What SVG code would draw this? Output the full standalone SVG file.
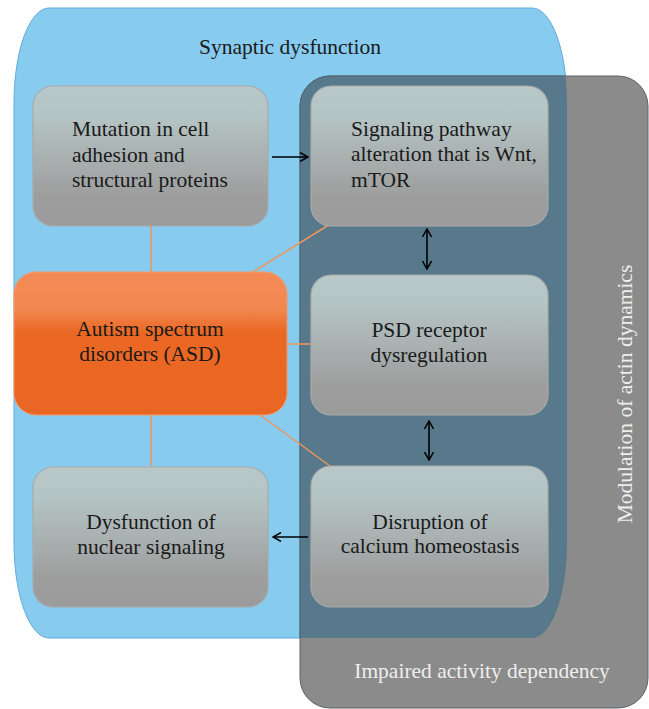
<svg xmlns="http://www.w3.org/2000/svg" width="649" height="709" viewBox="0 0 649 709">
<style>
.node{stroke:#a9aaaa;stroke-width:1.2}
.lbl{font-family:"Liberation Serif","DejaVu Serif",serif;font-size:21.5px;fill:#1a1a1a}
.c{text-anchor:middle}
.olink{stroke:#f0955a;stroke-width:1.5;fill:none}
.arr{stroke:#000;stroke-width:1.6;fill:none}
.wt{font-family:"Liberation Serif","DejaVu Serif",serif;font-size:21.5px;fill:#eeeeee}
</style>
<defs>
<linearGradient id="gg" x1="0" y1="0" x2="0" y2="1">
<stop offset="0" stop-color="#b8c8c8"/>
<stop offset="0.22" stop-color="#b5c4c4"/>
<stop offset="0.78" stop-color="#9e9e9e"/>
<stop offset="1" stop-color="#9b9b9b"/>
</linearGradient>
<linearGradient id="og" x1="0" y1="0" x2="0" y2="1">
<stop offset="0" stop-color="#f48b56"/>
<stop offset="0.26" stop-color="#f38751"/>
<stop offset="0.42" stop-color="#ea6824"/>
<stop offset="1" stop-color="#e96523"/>
</linearGradient>
<path id="bluePath" d="M49 8 H532 A35 95 0 0 1 567 103 V543 A35 95 0 0 1 532 638 H49 A35 95 0 0 1 14 543 V103 A35 95 0 0 1 49 8 Z"/>
<clipPath id="blueClip"><use href="#bluePath"/></clipPath>
<marker id="ah" viewBox="0 0 10 10" refX="9" refY="5" markerWidth="10" markerHeight="10" markerUnits="userSpaceOnUse" orient="auto-start-reverse">
<path d="M1 0.5 L9 5 L1 9.5" fill="none" stroke="#000" stroke-width="1.5"/>
</marker>
</defs>

<g id="regions">
<use href="#bluePath" fill="#87cbef" stroke="#63a9dc" stroke-width="1"/>
<rect x="300" y="76" width="348" height="632" rx="30" ry="30" fill="#8b8b8b" stroke="#5d6367" stroke-width="1"/>
<rect x="300" y="76" width="348" height="632" rx="30" ry="30" fill="#58798b" stroke="#4e6675" stroke-width="1" clip-path="url(#blueClip)"/>
<text class="lbl c" x="290" y="54" font-size="20.5">Synaptic dysfunction</text>
<text class="wt c" x="482" y="678">Impaired activity dependency</text>
<text class="wt c" transform="translate(632 394) rotate(-90)">Modulation of actin dynamics</text>
</g>

<g id="connectors">
<line class="olink" x1="151" y1="226" x2="151" y2="272"/>
<line class="olink" x1="151" y1="415" x2="151" y2="467"/>
<line class="olink" x1="327" y1="226" x2="253" y2="272"/>
<line class="olink" x1="287" y1="344" x2="311" y2="344"/>
<line class="olink" x1="260" y1="415" x2="330" y2="466"/>
<line class="arr" x1="272" y1="157" x2="308" y2="157" marker-end="url(#ah)"/>
<line class="arr" x1="427" y1="229" x2="427" y2="269" marker-start="url(#ah)" marker-end="url(#ah)"/>
<line class="arr" x1="429" y1="421" x2="429" y2="460" marker-start="url(#ah)" marker-end="url(#ah)"/>
<line class="arr" x1="308" y1="537" x2="273" y2="537" marker-end="url(#ah)"/>
</g>

<g id="n-mutation">
<rect class="node" x="33" y="86" width="235" height="140" rx="20" fill="url(#gg)"/>
<text class="lbl" x="72" y="136">Mutation in cell</text>
<text class="lbl" x="72" y="162">adhesion and</text>
<text class="lbl" x="72" y="187">structural proteins</text>
</g>

<g id="n-signaling">
<rect class="node" x="311" y="86" width="237" height="140" rx="20" fill="url(#gg)"/>
<text class="lbl" x="351" y="136">Signaling pathway</text>
<text class="lbl" x="351" y="161">alteration that is Wnt,</text>
<text class="lbl" x="351" y="187">mTOR</text>
</g>

<g id="n-asd">
<rect x="14" y="272" width="273" height="143" rx="22" fill="url(#og)" stroke="#f39a68" stroke-width="1"/>
<text class="lbl c" x="150" y="336">Autism spectrum</text>
<text class="lbl c" x="150" y="361">disorders (ASD)</text>
</g>

<g id="n-psd">
<rect class="node" x="311" y="275" width="237" height="140" rx="20" fill="url(#gg)"/>
<text class="lbl c" x="429" y="337">PSD receptor</text>
<text class="lbl c" x="429" y="362">dysregulation</text>
</g>

<g id="n-calcium">
<rect class="node" x="311" y="466" width="237" height="141" rx="20" fill="url(#gg)"/>
<text class="lbl c" x="430" y="529">Disruption of</text>
<text class="lbl c" x="430" y="553">calcium homeostasis</text>
</g>

<g id="n-nuclear">
<rect class="node" x="33" y="467" width="235" height="140" rx="20" fill="url(#gg)"/>
<text class="lbl c" x="151" y="529">Dysfunction of</text>
<text class="lbl c" x="151" y="554">nuclear signaling</text>
</g>
</svg>
